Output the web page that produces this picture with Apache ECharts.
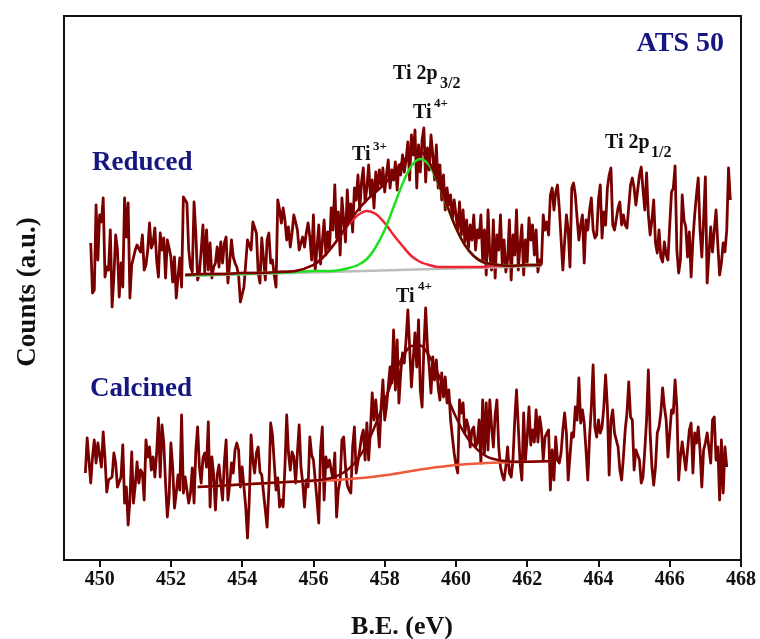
<!DOCTYPE html>
<html>
<head>
<meta charset="utf-8">
<title>ATS 50 - Ti 2p</title>
<script src="https://cdn.jsdelivr.net/npm/echarts@6.0.0/dist/echarts.min.js"></script>
<style>
  html, body { margin: 0; padding: 0; background: #fff; }
  #chart { width: 760px; height: 639px; }
</style>
</head>
<body>
<div id="chart"></div>
<script>
// x axis
const xTicks = [450, 452, 454, 456, 458, 460, 462, 464, 466, 468];

// raw spectra, one count every 0.05 eV
const beStep = 0.05;
const reducedStart = 449.75;
const calcinedStart = 449.60;

const reducedCounts = [
  317, 267, 270, 355, 300, 345, 338, 362, 283, 293,
  290, 330, 253, 283, 325, 310, 263, 297, 273, 362,
  323, 357, 262, 295, 293, 310, 315, 315, 308, 325,
  290, 295, 310, 337, 312, 317, 332, 300, 283, 327,
  310, 322, 282, 320, 312, 303, 278, 303, 262, 283,
  302, 273, 363, 365, 357, 310, 293, 288, 358, 327,
  280, 287, 310, 335, 287, 330, 290, 317, 282, 293,
  297, 313, 293, 318, 297, 317, 323, 277, 297, 320,
  303, 297, 293, 285, 258, 257, 273, 275, 320, 322,
  310, 338, 338, 327, 287, 277, 322, 323, 280, 320,
  327, 297, 300, 285, 273, 360, 350, 337, 352, 340,
  320, 333, 313, 327, 345, 338, 330, 310, 317, 323,
  313, 327, 337,
  323, 300, 345, 290, 312, 335, 296, 318, 340, 305, 328,
  310, 352, 330, 375, 322, 348, 305, 362, 340, 318, 370, 338, 356, 328, 372,
  360, 385, 350, 378, 392, 358, 372, 395, 365, 380, 352, 388, 370, 390,
  375, 392, 368, 385, 400, 372, 390, 380, 398, 370, 395, 385, 405, 388,
  400, 418, 380, 425, 405, 430, 372, 415, 388, 420, 432, 378, 412, 390, 425,
  405, 380, 415, 372, 395, 360, 385, 350, 372, 355, 365, 340, 360,
  345, 330, 358, 325, 350, 318, 340, 312, 335, 320, 345, 310, 330, 322,
  345, 300, 330, 285, 350, 305, 290, 340, 282, 325, 310, 345, 295, 320, 288,
  300, 340, 280, 325, 305, 350, 290, 315, 335, 285, 320, 298, 342,
  320, 335, 305, 330, 288, 300, 296, 345, 330, 338,
  325, 365, 372, 350, 368, 375, 352, 350, 290, 318,
  345, 330, 293, 372, 377, 365, 342, 320, 335, 345,
  297, 340, 330, 350, 362, 330, 322, 325, 360, 375,
  322, 348, 335, 372, 385, 392, 335, 330, 330, 352,
  358, 335, 345, 335, 332, 330, 375, 382, 372, 355,
  355, 385, 393, 370, 350, 387, 345, 325, 340, 360,
  317, 307, 330, 303, 298, 318, 305, 300, 335, 368,
  372, 394, 310, 287, 300, 365, 340, 333, 303, 328,
  283, 320, 345, 365, 382, 330, 303, 340, 383, 277,
  305, 333, 308, 330, 350, 315, 285, 297, 317, 308,
  330, 392, 360
];

const calcinedCounts = [
  87, 122, 122, 77, 103, 120, 97, 117, 115, 93,
  128, 102, 68, 80, 82, 83, 107, 97, 73, 72,
  83, 115, 57, 73, 35, 60, 108, 57, 75, 98,
  77, 90, 87, 60, 120, 103, 113, 90, 103, 83,
  107, 142, 83, 135, 117, 77, 43, 63, 117, 93,
  52, 67, 85, 70, 145, 67, 83, 70, 57, 67,
  92, 57, 110, 133, 93, 77, 102, 107, 93, 138,
  53, 103, 85, 50, 85, 95, 77, 60, 98, 120,
  60, 75, 97, 87, 110, 117, 110, 73, 93, 73,
  53, 22, 60, 125, 100, 87, 107, 113, 88, 85,
  67, 68, 33, 72, 137, 125, 123, 70, 82, 53,
  60, 53, 93, 145, 107, 90, 108, 103, 77, 107,
  135, 93, 77, 53, 80, 73,
  123, 105, 100, 80, 60, 37, 110, 133, 60, 103,
  93, 100, 90, 80, 107, 43, 70, 80, 120, 123,
  93, 75, 70, 67, 113, 133, 87, 87, 110, 123,
  130, 100, 137, 100, 130, 167, 140, 160, 137, 113,
  153, 180, 140, 153, 173, 193, 177, 230, 170, 220,
  157, 187, 207, 197, 220, 250, 213, 173, 200, 227,
  193, 240, 170, 153, 213, 252, 213, 193, 167, 203,
  180, 200, 173, 160, 187, 163, 183, 157, 170, 140,
  123, 107, 95, 87, 160, 147, 157, 127, 140, 133,
  113, 130, 133, 113, 117, 140, 97, 160, 107, 157,
  110, 160, 133, 113, 145, 160, 113, 93, 85, 80,
  93, 113, 87, 83, 100, 140, 170, 133, 97, 80,
  147, 100, 123, 153,
  115, 130, 118, 150, 118, 143, 130, 100, 123, 125,
  130, 70, 110, 80, 123, 100, 97, 107, 130, 147,
  127, 80, 78, 127, 123, 153, 140, 182, 137, 150,
  137, 110, 80, 123, 153, 195, 133, 123, 140, 127,
  133, 153, 185, 153, 85, 140, 150, 127, 127, 113,
  90, 80, 103, 130, 147, 178, 143, 140, 90, 110,
  110, 100, 77, 83, 110, 140, 190, 127, 93, 75,
  93, 127, 133, 147, 172, 153, 140, 103, 127, 150,
  147, 180, 153, 80, 103, 118, 120, 90, 110, 130,
  137, 87, 127, 117, 133, 110, 73, 110, 117, 127,
  127, 97, 140, 143, 100, 113, 60, 120, 67, 113,
  93
];

// reduced: peak fit
const reducedFitBE = [452.4, 453.0, 453.5, 454.0, 454.5, 455.0, 455.5, 456.0, 456.25, 456.5,
  456.75, 457.0, 457.25, 457.5, 457.75, 458.0, 458.25, 458.5, 458.75, 459.0,
  459.25, 459.5, 459.75, 460.0, 460.25, 460.5, 460.75, 461.0, 461.5, 462.0, 462.4];
const reducedTi3 = [285, 286, 286, 287, 287, 288, 289, 295, 302, 312,
  324, 336, 345, 349, 346, 337, 325, 314, 304, 298,
  295, 293, 293, 293, 293, 293, 293, 294, 294, 295, 295];
const reducedTi4 = [285, 285, 286, 286, 287, 287, 288, 289, 289, 289,
  290, 292, 295, 301, 313, 330, 353, 376, 394, 401,
  395, 377, 354, 332, 315, 304, 298, 296, 294, 295, 295];
const reducedEnvelope = [285, 286, 286, 287, 287, 288, 289, 295, 302, 312,
  324, 338, 350, 360, 368, 376, 387, 398, 407, 408,
  398, 378, 355, 332, 315, 304, 298, 296, 294, 295, 295];
const reducedBaseBE = [452.4, 462.4];
const reducedBase = [284, 294];

// calcined: peak fit
const calcinedFitBE = [452.75, 453.5, 454.0, 454.5, 455.0, 455.5, 456.0, 456.25, 456.5, 456.75,
  457.0, 457.25, 457.5, 457.75, 458.0, 458.25, 458.5, 458.75, 459.0, 459.25,
  459.5, 459.75, 460.0, 460.25, 460.5, 460.75, 461.0, 461.5, 462.0, 462.7];
const calcinedBase = [73, 74.5, 75.5, 76.5, 77.5, 78.3, 79, 79.4, 79.8, 80.3,
  81, 81.7, 82.6, 83.6, 84.7, 86, 87.5, 89, 90.5, 91.8,
  93, 94.1, 95, 95.7, 96.3, 96.8, 97.2, 97.8, 98.3, 99];
const calcinedEnvelope = [73, 74.5, 75.5, 76.5, 77.5, 78.4, 79.4, 80.3, 82, 85.5,
  91.5, 101, 116, 136, 159, 183, 203, 214, 214.5, 204,
  186, 164, 143, 126, 114, 106, 101.5, 98.6, 98.3, 99];

function gridPairs(start, counts) {
  return counts.map((c, i) => [+(start + i * beStep).toFixed(2), c]);
}
function pairs(xs, ys) {
  return xs.map((x, i) => [x, ys[i]]);
}

const serif = '"Liberation Serif", "Times New Roman", serif';
const navy = '#15167f';
const maroon = '#7a0000';

function line(name, data, color, width, smooth) {
  return {
    name: name,
    type: 'line',
    data: data,
    smooth: smooth ? 0.3 : false,
    symbol: 'none',
    lineStyle: { color: color, width: width, join: 'round' },
    emphasis: { disabled: true }
  };
}

function txt(x, y, text, size, color, align) {
  return {
    type: 'text',
    x: x,
    y: y,
    style: {
      text: text,
      font: 'bold ' + size + 'px ' + serif,
      fill: color || '#111',
      textAlign: align || 'left',
      textVerticalAlign: 'middle'
    }
  };
}

const chart = echarts.init(document.getElementById('chart'));
chart.setOption({
  animation: false,
  backgroundColor: '#fff',
  grid: {
    left: 64, right: 19, top: 16, bottom: 79,
    show: true, borderColor: '#111', borderWidth: 2
  },
  xAxis: {
    type: 'value',
    min: 449,
    max: 468,
    axisLine: { show: true, lineStyle: { color: '#111', width: 2 } },
    axisTick: { show: true, length: 7, inside: false, customValues: xTicks, lineStyle: { color: '#111', width: 2 } },
    axisLabel: {
      customValues: xTicks,
      margin: 10,
      color: '#111',
      fontFamily: serif,
      fontWeight: 'bold',
      fontSize: 20
    },
    splitLine: { show: false }
  },
  yAxis: {
    type: 'value',
    min: 0,
    max: 544,
    axisLine: { show: false },
    axisTick: { show: false },
    axisLabel: { show: false },
    splitLine: { show: false }
  },
  series: [
    line('Reduced', gridPairs(reducedStart, reducedCounts), maroon, 2.8, false),
    line('Calcined', gridPairs(calcinedStart, calcinedCounts), maroon, 2.8, false),
    line('Reduced background', pairs(reducedBaseBE, reducedBase), '#bdbdbd', 2.5, false),
    line('Ti3+', pairs(reducedFitBE, reducedTi3), '#ee2436', 2.5, true),
    line('Ti4+', pairs(reducedFitBE, reducedTi4), '#1fe01f', 2.5, true),
    line('Reduced fit', pairs(reducedFitBE, reducedEnvelope), maroon, 2.5, true),
    line('Calcined background', pairs(calcinedFitBE, calcinedBase), '#f05a3c', 2.5, true),
    line('Calcined fit', pairs(calcinedFitBE, calcinedEnvelope), maroon, 2.5, true)
  ],
  graphic: [
    txt(724, 44, 'ATS 50', 28, navy, 'right'),
    txt(92, 163, 'Reduced', 27, navy),
    txt(90, 389, 'Calcined', 27, navy),
    txt(393, 74, 'Ti 2p', 20),
    txt(440, 84, '3/2', 16),
    txt(413, 113, 'Ti', 20),
    txt(434, 104, '4+', 13),
    txt(352, 155, 'Ti', 20),
    txt(373, 147, '3+', 13),
    txt(396, 297, 'Ti', 20),
    txt(418, 287, '4+', 13),
    txt(605, 143, 'Ti 2p', 20),
    txt(651, 153, '1/2', 16),
    txt(402, 627, 'B.E. (eV)', 26, '#111', 'center'),
    {
      type: 'text',
      x: 28,
      y: 292,
      rotation: Math.PI / 2,
      style: {
        text: 'Counts (a.u.)',
        font: 'bold 27px ' + serif,
        fill: '#111',
        textAlign: 'center',
        textVerticalAlign: 'middle'
      }
    }
  ]
});
</script>
</body>
</html>
